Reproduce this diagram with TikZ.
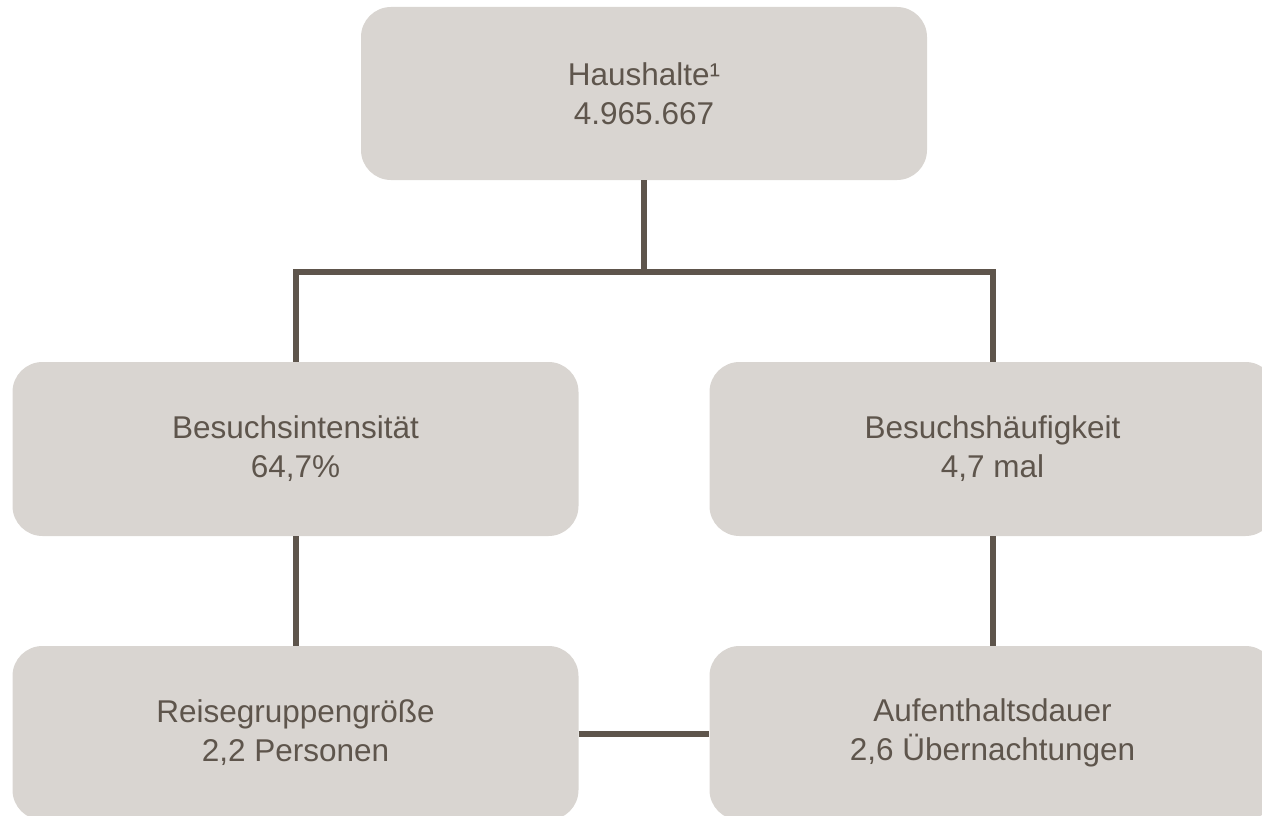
\documentclass[tikz,border=0pt]{standalone}
\usepackage{fontspec}
\setmainfont{Liberation Sans}
\definecolor{boxfill}{HTML}{D9D5D1}
\definecolor{ink}{HTML}{5E554C}
\begin{document}
\begin{tikzpicture}[x=1pt,y=-1pt,
  kpibox/.style={fill=boxfill, draw=none, rounded corners=30pt,
    minimum width=566pt, minimum height=174pt, inner sep=0pt,
    text=ink, align=center, font=\fontsize{31.5}{39}\selectfont},
  link/.style={draw=ink, line width=6pt}]
\useasboundingbox (0,0) rectangle (1262,816);
\clip (0,0) rectangle (1262,816);
\node[kpibox, minimum height=173pt] (top) at (644,93.5) {Haushalte¹\\4.965.667};
\node[kpibox] (lm) at (295.5,449) {Besuchsintensität\\64,7\%};
\node[kpibox] (rm) at (992.5,449) {Besuchshäufigkeit\\4,7 mal};
\node[kpibox] (lb) at (295.5,733) {Reisegruppengröße\\2,2 Personen};
\node[kpibox] (rb) at (992.5,733) {Aufenthaltsdauer\\2,6 Übernachtungen};
\coordinate (j) at (644,271.5);
\draw[link] (top.south) -- (j);
\draw[link] (lm.north) |- (j) -| (rm.north);
\draw[link] (lm.south) -- (lb.north);
\draw[link] (rm.south) -- (rb.north);
\draw[link] (lb.east |- 0,734) -- (rb.west |- 0,734);
\end{tikzpicture}
\end{document}
